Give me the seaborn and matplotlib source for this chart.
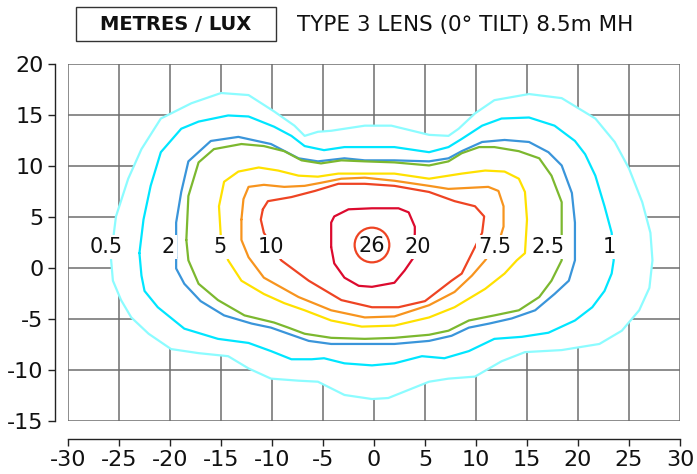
import matplotlib
matplotlib.use("Agg")
import matplotlib.pyplot as plt
from matplotlib.patches import Ellipse, Rectangle
import seaborn as sns
import pandas as pd

# isolux contours (metres)
lux_0_5 = [(-25.8, 1.1), (-25.3, 5.1), (-24.1, 8.8), (-22.8, 11.7), (-20.9, 14.7), (-17.9, 16.2),
           (-15.0, 17.2), (-12.3, 17.0), (-9.8, 15.4), (-7.8, 14.0), (-6.8, 13.0), (-5.5, 13.4),
           (-4.2, 13.5), (-0.9, 14.0), (1.7, 14.0), (5.4, 13.1), (7.3, 13.0), (8.3, 13.7),
           (9.9, 15.2), (11.8, 16.5), (15.2, 17.1), (18.4, 16.7), (21.7, 14.7), (23.6, 12.4),
           (25.0, 9.8), (26.3, 6.5), (27.1, 3.5), (27.3, 0.8), (27.0, -1.9), (26.0, -4.1),
           (24.3, -6.1), (22.1, -7.4), (18.4, -8.0), (14.8, -8.2), (12.5, -9.1), (9.9, -10.6),
           (7.3, -10.8), (5.4, -11.1), (1.4, -12.7), (-0.2, -12.8), (-2.9, -12.4), (-5.5, -11.1),
           (-7.4, -11.0), (-10.1, -10.8), (-12.3, -9.8), (-14.3, -8.6), (-17.2, -8.3), (-19.9, -7.9),
           (-22.1, -6.4), (-23.8, -4.8), (-24.8, -3.1), (-25.6, -1.2)]

lux_1 = [(-23.0, 1.5), (-22.6, 4.8), (-21.9, 8.1), (-20.9, 11.4), (-18.9, 13.7), (-17.2, 14.4),
         (-14.3, 15.0), (-12.3, 14.9), (-9.8, 13.9), (-8.1, 13.0), (-6.8, 12.0), (-4.9, 11.6),
         (-2.9, 11.9), (-0.9, 11.9), (2.0, 11.9), (5.4, 11.4), (7.3, 11.9), (8.6, 12.7),
         (10.6, 14.0), (12.5, 14.7), (15.2, 14.8), (17.7, 14.0), (19.7, 12.5), (20.7, 11.2),
         (21.7, 9.1), (22.6, 6.1), (23.3, 3.5), (23.5, 0.8), (23.3, -0.5), (22.6, -2.2),
         (21.4, -3.8), (19.7, -5.1), (17.1, -6.3), (14.5, -6.7), (11.8, -6.9), (9.3, -8.1),
         (6.9, -8.8), (4.7, -8.6), (2.0, -9.3), (-0.2, -9.5), (-2.9, -9.3), (-4.9, -8.8),
         (-6.1, -8.9), (-8.1, -8.9), (-10.1, -8.1), (-12.3, -7.3), (-15.3, -6.9), (-18.6, -5.9),
         (-21.2, -3.8), (-22.5, -2.2), (-22.8, -0.7)]

lux_2 = [(-19.4, 1.1), (-19.4, 4.5), (-18.9, 7.5), (-18.2, 10.5), (-16.0, 12.5), (-13.3, 12.9),
         (-10.1, 12.2), (-7.4, 10.8), (-5.5, 10.5), (-2.9, 10.8), (-0.9, 10.6), (2.0, 10.6),
         (5.4, 10.5), (7.3, 10.8), (8.6, 11.5), (10.6, 12.4), (12.8, 12.6), (15.2, 12.4),
         (17.1, 11.4), (18.4, 10.1), (19.4, 7.4), (19.7, 4.5), (19.7, 2.1), (19.7, 0.8),
         (19.1, -1.2), (17.7, -2.5), (15.8, -4.1), (13.5, -4.9), (11.3, -5.4), (9.3, -5.8),
         (7.6, -6.6), (5.4, -7.1), (2.0, -7.4), (-0.9, -7.4), (-4.2, -7.4), (-6.4, -7.1),
         (-8.4, -6.4), (-10.1, -5.8), (-12.0, -5.4), (-14.7, -4.6), (-17.0, -3.2), (-18.6, -1.5),
         (-19.4, 0.0)]

lux_2_5 = [(-18.4, 2.8), (-18.2, 7.1), (-17.2, 10.4), (-15.7, 11.7), (-13.0, 12.2), (-10.8, 12.0),
           (-8.8, 11.5), (-7.1, 10.6), (-5.2, 10.3), (-3.2, 10.6), (-0.9, 10.5), (2.0, 10.4),
           (5.4, 10.1), (7.3, 10.5), (8.6, 11.3), (10.3, 11.9), (11.8, 11.9), (14.2, 11.5),
           (16.2, 10.8), (17.4, 9.1), (18.4, 6.5), (18.4, 4.1), (18.4, 0.8), (17.4, -1.2),
           (16.2, -2.8), (14.2, -4.1), (11.8, -4.6), (9.3, -5.1), (7.3, -6.1), (5.4, -6.5),
           (2.0, -6.8), (-0.9, -6.9), (-4.2, -6.8), (-6.8, -6.4), (-8.4, -5.8), (-9.8, -5.3),
           (-12.7, -4.6), (-15.3, -3.1), (-17.2, -1.5), (-18.2, 0.8)]

lux_5 = [(-15.0, 2.8), (-15.2, 6.1), (-14.7, 8.5), (-13.3, 9.5), (-11.3, 9.9), (-9.4, 9.6),
         (-7.4, 9.1), (-5.5, 9.0), (-3.5, 9.3), (-0.9, 9.3), (2.0, 9.3), (5.4, 8.8),
         (8.6, 9.3), (10.9, 9.6), (12.8, 9.5), (14.2, 8.8), (14.8, 7.5), (15.0, 4.8),
         (14.8, 1.5), (14.0, 0.8), (12.8, -0.5), (10.9, -2.0), (7.9, -3.8), (5.4, -4.8),
         (2.0, -5.6), (-1.2, -5.7), (-4.2, -5.1), (-6.8, -4.1), (-8.8, -3.4), (-10.8, -2.5),
         (-13.0, -1.2), (-14.3, 0.8)]

lux_7_5 = [(-13.0, 4.8), (-12.8, 6.8), (-12.3, 8.0), (-10.8, 8.2), (-8.8, 8.0), (-6.8, 8.1),
           (-5.2, 8.4), (-3.2, 8.8), (-0.9, 8.9), (2.0, 8.6), (5.4, 8.1), (7.3, 7.8),
           (11.2, 8.0), (12.2, 7.6), (12.7, 6.1), (12.7, 4.1), (12.3, 2.8), (10.9, 0.8),
           (9.6, -0.7), (7.9, -2.3), (5.4, -3.6), (2.0, -4.7), (-0.9, -4.8), (-4.2, -4.1),
           (-7.4, -2.8), (-10.8, -0.9), (-12.3, 1.1), (-13.0, 2.8)]

lux_10 = [(-10.9, 5.8), (-10.4, 6.6), (-8.1, 7.0), (-5.8, 7.6), (-3.5, 8.3), (-0.9, 8.3),
          (2.0, 8.1), (5.4, 7.5), (7.9, 6.6), (9.9, 6.1), (10.8, 5.1), (10.6, 3.5),
          (9.6, 1.5), (8.6, -0.5), (7.6, -1.2), (5.0, -3.2), (2.4, -3.8), (-0.2, -3.8),
          (-3.2, -3.1), (-6.4, -1.2), (-9.1, 0.8), (-10.8, 3.5), (-11.1, 4.8)]

lux_20 = [(-4.2, 2.1), (-4.2, 4.5), (-3.9, 5.1), (-2.5, 5.8), (-0.2, 5.9), (2.4, 5.9),
          (3.4, 5.5), (4.0, 4.1), (4.0, 3.5), (3.9, 1.1), (3.0, -0.2), (2.0, -1.4),
          (-0.2, -1.8), (-1.5, -1.7), (-2.9, -0.9), (-3.9, 0.5)]

# the 26 lux ring around the luminaire
lux_26_centre = (-0.2, 2.3)
lux_26_radius = 1.7

contours = [lux_0_5, lux_1, lux_2, lux_2_5, lux_5, lux_7_5, lux_10, lux_20]
contour_colors = ["#8cfcff", "#00e6ff", "#3a95da", "#7cb82f", "#ffe100", "#f7941e", "#ee4423", "#dc0a2e"]
ring_color = "#ee4423"

label_text = ["0.5", "2", "5", "10", "26", "20", "7.5", "2.5", "1"]
label_x = [-26.3, -20.2, -15.1, -10.1, -0.2, 4.3, 11.8, 17.1, 23.1]
label_y = [2.1, 2.1, 2.1, 2.1, 2.2, 2.1, 2.1, 2.1, 2.1]

sns.set_style("ticks")
plt.rcParams['font.family'] = ['DejaVu Sans']
plt.rcParams['text.color'] = '#111111'
plt.rcParams['axes.unicode_minus'] = False

fig = plt.figure(figsize=(6.97, 4.74), dpi=100)
ax = fig.add_axes([0.0976, 0.1108, 0.878, 0.7532])

ax.set_xlim(-30, 30)
ax.set_ylim(-15, 20)
ax.set_xticks(range(-30, 31, 5))
ax.set_yticks(range(-15, 21, 5))
ax.grid(True, color="#6e6e6e", lw=1.1)
ax.set_axisbelow(True)

# white inside the outer contour hides the grid
ox = [p[0] for p in lux_0_5]
oy = [p[1] for p in lux_0_5]
ax.fill(ox, oy, color="white", lw=0, zorder=1)

for pts, col in zip(contours, contour_colors):
    df = pd.DataFrame(pts + pts[:1], columns=["x", "y"])
    sns.lineplot(data=df, x="x", y="y", sort=False, estimator=None, color=col,
                 lw=1.6, ax=ax, zorder=2, solid_joinstyle="round")

ax.add_patch(Ellipse(lux_26_centre, 2 * lux_26_radius, 2 * lux_26_radius,
                     fill=False, ec=ring_color, lw=1.6, zorder=2))

for t, x, y in zip(label_text, label_x, label_y):
    box = None if t == "26" else dict(boxstyle="square,pad=0.1", fc="white", ec="none")
    ax.text(x, y, t, ha="center", va="center", fontsize=15, bbox=box, zorder=3)

ax.set_xlabel("")
ax.set_ylabel("")
sns.despine(ax=ax, offset={"left": 9.5, "bottom": 12.5})
for s in ["left", "bottom"]:
    ax.spines[s].set_color("#222222")
    ax.spines[s].set_linewidth(1.0)
ax.tick_params(direction="out", length=5, width=1, color="#222222", labelsize=16,
               labelcolor="#111111", pad=3)

# header
fig.add_artist(Rectangle((76 / 697, 1 - 41 / 474), 200 / 697, 34 / 474,
                         transform=fig.transFigure, fill=False, ec="#333333", lw=1))
fig.text(176 / 697, 1 - 24 / 474, "METRES / LUX", ha="center", va="center",
         fontsize=14, fontweight="bold")
fig.text(297 / 697, 1 - 25 / 474, "TYPE 3 LENS (0° TILT) 8.5m MH", ha="left",
         va="center", fontsize=15.5)

fig.savefig("out.png", dpi=100)
